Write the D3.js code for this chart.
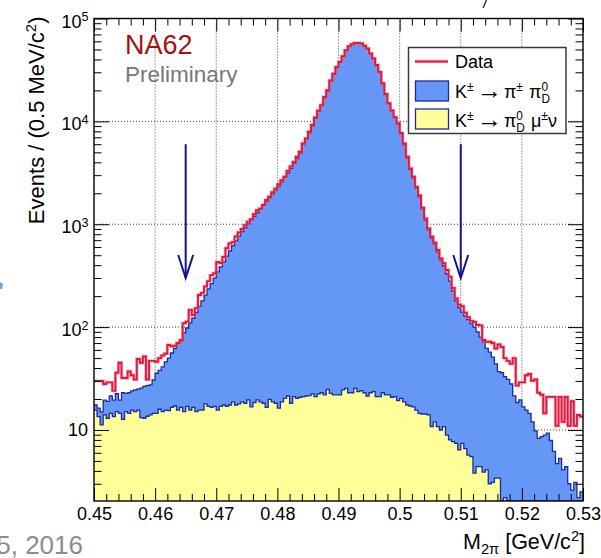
<!DOCTYPE html>
<html>
<head>
<meta charset="utf-8">
<script src="https://cdn.jsdelivr.net/npm/d3@7"></script>
<style>
  html, body { margin: 0; padding: 0; background: #fff; }
  svg { display: block; }
  text { font-family: "Liberation Sans", Arial, Helvetica, sans-serif; }
</style>
</head>
<body>
<svg id="chart" width="601" height="558"></svg>
<script>
// Two-pion invariant mass, 0.5 MeV bins from 0.45 to 0.53 GeV/c^2
const binLow = 0.45;
const binWidth = 0.0005;

// Data (red histogram)
const dataCounts = [
  30, 30, 30, 28, 29, 29, 24, 36, 45, 32,
  32, 37, 34, 31, 49, 45, 52, 31, 47, 47,
  46, 50, 53, 55, 67, 65, 66, 70, 74, 109,
  113, 147, 131, 153, 205, 215, 248, 280, 320, 335,
  430, 420, 480, 585, 650, 670, 760, 830, 900, 980,
  1060, 1120, 1250, 1370, 1420, 1540, 1720, 1850, 2050, 2220,
  2450, 2680, 2900, 3300, 3650, 4040, 4530, 5070, 6110, 6840,
  7930, 9210, 10900, 12700, 14400, 17300, 20100, 25000, 29000, 33900,
  37900, 43100, 49300, 53900, 56400, 58000, 58000, 57300, 54300, 51200,
  45800, 41000, 35300, 30300, 23500, 18500, 15000, 12800, 11000, 9600,
  7700, 6100, 4530, 3490, 2900, 2310, 1900, 1450, 1140, 912,
  756, 661, 561, 466, 417, 359, 309, 240, 190, 165,
  160, 138, 125, 115, 112, 105, 104, 75, 72, 72,
  70, 62, 68, 64, 50, 47, 44, 50, 27, 29,
  29, 34, 35, 30, 31, 23, 22, 14.5, 21, 21,
  21, 11, 21, 12, 21, 11, 19, 11, 14, 13.5
];

// Stack total: K -> pi pi0_D on top of K -> pi0_D mu nu (blue)
const stackTotalCounts = [
  17.5, 16.3, 15, 19.5, 19, 21.5, 19.5, 22.5, 19.5, 23,
  22.7, 23, 24, 24.5, 25, 25.5, 26.5, 27, 27.4, 30.6,
  35.6, 38, 41, 46, 50, 56, 62, 70, 76, 88,
  98, 110, 122, 138, 160, 180, 205, 235, 265, 300,
  345, 385, 430, 490, 550, 620, 690, 770, 850, 930,
  1010, 1100, 1190, 1300, 1400, 1530, 1670, 1810, 1970, 2150,
  2350, 2580, 2850, 3150, 3500, 3900, 4350, 4900, 5950, 6700,
  7750, 9000, 10700, 12500, 14200, 17000, 19800, 24600, 28600, 33400,
  37400, 42600, 48800, 53400, 55900, 57500, 57600, 56900, 53900, 50700,
  45300, 40500, 34800, 29900, 23200, 18200, 14700, 12600, 10800, 9400,
  7550, 5950, 4420, 3400, 2820, 2240, 1850, 1400, 1100, 880,
  730, 640, 540, 450, 395, 330, 280, 225, 180, 155,
  140, 128, 118, 108, 100, 90, 80, 72, 62, 57,
  51, 44, 37, 36, 33, 31, 28, 21.5, 18.5, 19.6,
  16.8, 15.6, 14.5, 12, 9.8, 8.3, 8.6, 8.9, 9.3, 7.9,
  6.2, 4.7, 5.3, 4.1, 4.4, 3.0, 2.6, 3.1, 2.2, 2.5
];

// K -> pi0_D mu nu component (yellow)
const kmu3Counts = [
  15.6, 13.5, 11.2, 14, 13, 14.5, 13.5, 15.1, 14.5, 12.7,
  15.1, 14.5, 15.6, 15.1, 15.6, 13.2, 13, 13.6, 14, 14.5,
  14.5, 15.9, 15.1, 15.6, 15.4, 16.6, 17.1, 15.6, 16.6, 15.1,
  17, 15.6, 16.6, 15.1, 15.6, 15.6, 17.9, 17, 16.6, 17,
  15.6, 17, 17.5, 17, 17.5, 18.8, 17.5, 17.9, 18.8, 18.2,
  19.6, 16.8, 18.5, 19.6, 18.8, 18.2, 16.6, 19.8, 18.8, 18.2,
  16.3, 18.8, 20.3, 21.4, 18.2, 21.1, 20.3, 20.8, 21.1, 21.4,
  21.6, 22.4, 21.1, 22.4, 23, 21.9, 24.8, 22.7, 21.9, 21.9,
  21.9, 24.5, 25.4, 23, 23, 25.4, 23.6, 24.1, 23, 21.4,
  23, 23.6, 21.1, 21.1, 23, 21.9, 21.9, 20.8, 21.1, 19.3,
  20.3, 18.8, 17.5, 17.1, 16.8, 15.6, 14.5, 14.3, 14.3, 14,
  10.8, 12, 10.8, 10, 10.8, 8.9, 8.0, 7.7, 7.4, 6.4,
  7.4, 6.6, 5.7, 5.5, 3.8, 4.4, 4.4, 3.9, 4.1, 3.0,
  3.1, 3.4, 3.4, 1.8, 2.2, 1.7, 1.5, 1.4, 1.2, 1.1,
  1.0, 1.0, 0.9, 0.9, 0.8, 0.8, 0.7, 0.7, 0.6, 0.6,
  0.5, 0.5, 0.5, 0.4, 0.4, 0.4, 0.3, 0.3, 0.3, 0.3
];

const xTickValues = [0.45, 0.46, 0.47, 0.48, 0.49, 0.50, 0.51, 0.52, 0.53];
const xTickLabels = ["0.45", "0.46", "0.47", "0.48", "0.49", "0.5", "0.51", "0.52", "0.53"];
const yDecadeExponents = [1, 2, 3, 4, 5];

// Signal-region cuts marked by arrows
const cutPositions = [0.465, 0.51];
const arrowFrom = 6000;
const arrowTo = 300;

// Style
const BLUE = "#6597f6";
const YELLOW = "#ffff99";
const OUTLINE = "#1f2a9a";
const RED = "#e2183d";
const NAVY = "#12128c";

const svg = d3.select("#chart");
const X0 = 94, X1 = 583, Y0 = 18.5, Y1 = 501;

const x = d3.scaleLinear().domain([0.45, 0.53]).range([X0, X1]);
const y = d3.scaleLog().domain([2.04, 1e5]).range([Y1, Y0]).clamp(true);

// Helper: lay out runs of text (with super/subscripts) left to right
function richText(parent, x0, y0, runs, baseSize, fill) {
  const g = parent.append("g");
  let cx = x0, prevStart = x0;
  runs.forEach(r => {
    if (r.gap !== undefined) { cx += r.gap; return; }
    const startX = r.stack ? prevStart : cx;
    const t = g.append("text")
      .attr("x", startX)
      .attr("y", y0 + (r.dy || 0))
      .attr("font-size", baseSize * (r.s || 1))
      .attr("fill", fill || "#000")
      .text(r.t);
    if (r.f) t.attr("font-family", r.f);
    const w = t.node().getComputedTextLength();
    prevStart = startX;
    cx = r.stack ? Math.max(cx, startX + w) : startX + w;
  });
  return { g, width: cx - x0 };
}

// Dotted grid
const grid = svg.append("g")
  .attr("stroke", "#444").attr("stroke-width", 1).attr("stroke-dasharray", "1,2");
xTickValues.slice(1, -1).forEach(v => {
  grid.append("line").attr("x1", x(v)).attr("x2", x(v)).attr("y1", Y0).attr("y2", Y1);
});
yDecadeExponents.slice(0, -1).forEach(k => {
  const v = Math.pow(10, k);
  grid.append("line").attr("x1", X0).attr("x2", X1).attr("y1", y(v)).attr("y2", y(v));
});

// Histograms
svg.append("clipPath").attr("id", "frameClip")
  .append("rect").attr("x", X0).attr("y", Y0).attr("width", X1 - X0).attr("height", Y1 - Y0);

function stepPoints(vals) {
  const pts = vals.map((v, i) => [binLow + i * binWidth, v]);
  pts.push([binLow + vals.length * binWidth, vals[vals.length - 1]]);
  return pts;
}
const stepLine = d3.line().x(d => x(d[0])).y(d => y(d[1])).curve(d3.curveStepAfter);
const stepArea = d3.area().x(d => x(d[0])).y0(Y1 + 2).y1(d => y(d[1])).curve(d3.curveStepAfter);

const plot = svg.append("g").attr("clip-path", "url(#frameClip)");

plot.append("path").datum(stepPoints(stackTotalCounts))
  .attr("d", stepArea).attr("fill", BLUE);
plot.append("path").datum(stepPoints(stackTotalCounts))
  .attr("d", stepLine).attr("fill", "none").attr("stroke", OUTLINE).attr("stroke-width", 1.3);

plot.append("path").datum(stepPoints(kmu3Counts))
  .attr("d", stepArea).attr("fill", YELLOW);
plot.append("path").datum(stepPoints(kmu3Counts))
  .attr("d", stepLine).attr("fill", "none").attr("stroke", OUTLINE).attr("stroke-width", 1.3);

plot.append("path").datum(stepPoints(dataCounts))
  .attr("d", stepLine).attr("fill", "none")
  .attr("stroke", "#f07a92").attr("stroke-opacity", 0.55).attr("stroke-width", 3.4);
plot.append("path").datum(stepPoints(dataCounts))
  .attr("d", stepLine).attr("fill", "none").attr("stroke", RED).attr("stroke-width", 1.9);

// Cut arrows
const arrows = svg.append("g").attr("stroke", NAVY).attr("stroke-width", 2).attr("fill", "none");
cutPositions.forEach(c => {
  const ax = x(c), yTop = y(arrowFrom), yTip = y(arrowTo);
  arrows.append("line").attr("x1", ax).attr("x2", ax).attr("y1", yTop).attr("y2", yTip);
  arrows.append("path").attr("d", `M${ax - 7.5},${yTip - 23} L${ax},${yTip} L${ax + 7.5},${yTip - 23}`);
});

// Axes (ticks on all four sides, pointing inward)
const xMinor = d3.range(0, 41).map(i => +(0.45 + i * 0.002).toFixed(3))
  .filter(v => Math.round(v * 1000) % 10 !== 0);
const yMinor = [];
[0, 1, 2, 3, 4].forEach(k => {
  for (let m = 2; m <= 9; m++) {
    const v = m * Math.pow(10, k);
    if (v > 2.04 && v < 1e5) yMinor.push(v);
  }
});
const yMajor = yDecadeExponents.map(k => Math.pow(10, k));

function styleAxis(g) {
  g.select(".domain").remove();
  g.selectAll(".tick line").attr("stroke", "#000").attr("stroke-width", 1);
  g.attr("font-family", null).attr("font-size", null);
}

svg.append("g").attr("transform", `translate(0,${Y1})`)
  .call(d3.axisBottom(x).tickValues(xMinor).tickSizeInner(-7).tickSizeOuter(0).tickFormat(""))
  .call(styleAxis);
const xAxisG = svg.append("g").attr("transform", `translate(0,${Y1})`)
  .call(d3.axisBottom(x).tickValues(xTickValues).tickSizeInner(-13).tickSizeOuter(0)
    .tickPadding(6).tickFormat((d, i) => xTickLabels[i]))
  .call(styleAxis);
xAxisG.selectAll(".tick text").attr("font-size", 18).attr("fill", "#000");

svg.append("g").attr("transform", `translate(0,${Y0})`)
  .call(d3.axisTop(x).tickValues(xMinor).tickSizeInner(-7).tickSizeOuter(0).tickFormat(""))
  .call(styleAxis);
svg.append("g").attr("transform", `translate(0,${Y0})`)
  .call(d3.axisTop(x).tickValues(xTickValues).tickSizeInner(-13).tickSizeOuter(0).tickFormat(""))
  .call(styleAxis);

svg.append("g").attr("transform", `translate(${X0},0)`)
  .call(d3.axisLeft(y).tickValues(yMinor).tickSizeInner(-7.5).tickSizeOuter(0).tickFormat(""))
  .call(styleAxis);
svg.append("g").attr("transform", `translate(${X0},0)`)
  .call(d3.axisLeft(y).tickValues(yMajor).tickSizeInner(-15).tickSizeOuter(0).tickFormat(""))
  .call(styleAxis);

svg.append("g").attr("transform", `translate(${X1},0)`)
  .call(d3.axisRight(y).tickValues(yMinor).tickSizeInner(-7.5).tickSizeOuter(0).tickFormat(""))
  .call(styleAxis);
svg.append("g").attr("transform", `translate(${X1},0)`)
  .call(d3.axisRight(y).tickValues(yMajor).tickSizeInner(-15).tickSizeOuter(0).tickFormat(""))
  .call(styleAxis);

// Decade labels: 10, 10^2 ... 10^5
yDecadeExponents.forEach(k => {
  const ty = y(Math.pow(10, k));
  if (k === 1) {
    svg.append("text").attr("x", X0 - 6).attr("y", ty + 6.5)
      .attr("text-anchor", "end").attr("font-size", 18).text("10");
  } else {
    const r = richText(svg, 0, 0, [
      { t: "10" },
      { t: String(k), s: 0.7, dy: -6.5 }
    ], 18);
    r.g.attr("transform", `translate(${X0 - 5.5 - r.width},${ty + 9})`);
  }
});

// Frame
svg.append("rect").attr("x", X0).attr("y", Y0).attr("width", X1 - X0).attr("height", Y1 - Y0)
  .attr("fill", "none").attr("stroke", "#000").attr("stroke-width", 1.4);

// Axis titles
const yTitle = richText(svg, 0, 0, [
  { t: "Events / (0.5 MeV/c" },
  { t: "2", s: 0.68, dy: -8 },
  { t: ")" }
], 22);
yTitle.g.attr("transform", `translate(43.5,16.5) rotate(-90) translate(${-yTitle.width},0)`);

const xTitle = richText(svg, 0, 0, [
  { t: "M" },
  { t: "2\u03C0", s: 0.68, dy: 5 },
  { gap: 6 },
  { t: "[GeV/c" },
  { t: "2", s: 0.68, dy: -8 },
  { t: "]" }
], 21.5);
xTitle.g.attr("transform", `translate(${585 - xTitle.width},549)`);

// Experiment label
svg.append("text").attr("x", 125).attr("y", 53.5).attr("font-size", 27)
  .attr("fill", "#a11212").text("NA62");
svg.append("text").attr("x", 125).attr("y", 81.5).attr("font-size", 22.5)
  .attr("fill", "#777").text("Preliminary");

// Legend
const ARROW_FONT = "'DejaVu Sans', sans-serif";
const leg = svg.append("g");
leg.append("rect").attr("x", 408.5).attr("y", 47.5).attr("width", 157.5).attr("height", 86)
  .attr("fill", "#fff").attr("stroke", "#3a3a3a").attr("stroke-width", 1.5);
leg.append("line").attr("x1", 415).attr("x2", 448).attr("y1", 61.5).attr("y2", 61.5)
  .attr("stroke", "#f07a92").attr("stroke-opacity", 0.55).attr("stroke-width", 3.4);
leg.append("line").attr("x1", 415).attr("x2", 448).attr("y1", 61.5).attr("y2", 61.5)
  .attr("stroke", RED).attr("stroke-width", 1.9);
leg.append("text").attr("x", 455).attr("y", 68).attr("font-size", 18).text("Data");

leg.append("rect").attr("x", 415.5).attr("y", 81).attr("width", 33).attr("height", 20)
  .attr("fill", BLUE).attr("stroke", OUTLINE).attr("stroke-width", 1.3);
richText(leg, 455, 98, [
  { t: "K" }, { t: "\u00B1", s: 0.68, dy: -7 }, { gap: 3 },
  { t: "\u2192", f: ARROW_FONT, s: 1.4, dy: 1 }, { gap: 2 },
  { t: "\u03C0" }, { t: "\u00B1", s: 0.68, dy: -7 }, { gap: 6 },
  { t: "\u03C0" }, { t: "0", s: 0.66, dy: -7 }, { t: "D", s: 0.66, dy: 5, stack: true }
], 18);

leg.append("rect").attr("x", 415.5).attr("y", 109).attr("width", 33).attr("height", 20)
  .attr("fill", YELLOW).attr("stroke", OUTLINE).attr("stroke-width", 1.3);
richText(leg, 455, 126.5, [
  { t: "K" }, { t: "\u00B1", s: 0.68, dy: -7 }, { gap: 3 },
  { t: "\u2192", f: ARROW_FONT, s: 1.4, dy: 1 }, { gap: 2 },
  { t: "\u03C0" }, { t: "0", s: 0.66, dy: -7 }, { t: "D", s: 0.66, dy: 5, stack: true },
  { gap: 6 },
  { t: "\u03BC" }, { t: "\u00B1", s: 0.68, dy: -7 }, { t: "\u03BD" }
], 18);

// Slide footer fragment and marks around the figure
svg.append("text").attr("x", 83).attr("y", 554).attr("text-anchor", "end")
  .attr("font-family", "Lato, 'Open Sans', sans-serif").attr("font-size", 26)
  .attr("fill", "#8c8c8c").text("5, 2016");
svg.append("path").attr("d", "M0,282 L3,284 L2,289 L0,289 Z").attr("fill", "#6fa3d8");
svg.append("path").attr("d", "M486.5,0 L483,8").attr("stroke", "#333").attr("stroke-width", 1.4);
</script>
</body>
</html>
